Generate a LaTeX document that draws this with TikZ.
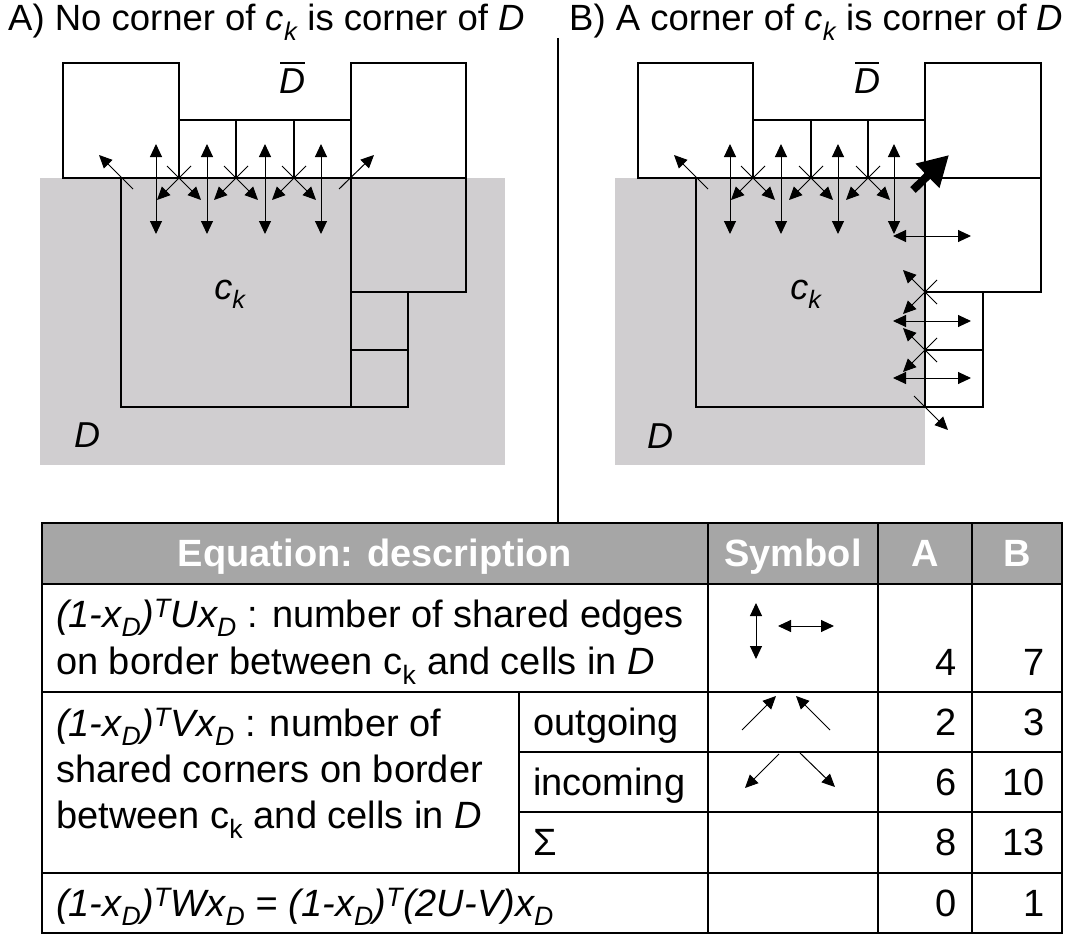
\documentclass[tikz,border=0pt]{standalone}
\usepackage{fontspec}
\setmainfont{Liberation Sans}
\usetikzlibrary{arrows.meta}
\definecolor{regiongray}{RGB}{208,206,208}
\definecolor{headgray}{RGB}{166,166,166}
\newcommand\hcross[1]{%
  \draw[arr] (#1) ++(-12,-12) -- ++(34,34);
  \draw[arr] (#1) ++(12,-12) -- ++(-34,34);}
\newcommand\vcross[1]{%
  \draw[arr] (#1) ++(12,-12) -- ++(-34,34);
  \draw[arr] (#1) ++(12,12) -- ++(-34,-34);}
\begin{document}
\begin{tikzpicture}[x=1pt,y=-1pt,
  cell/.style={draw=black,line width=2pt},
  tline/.style={draw=black,line width=2pt},
  arr/.style={line width=1pt,-{Triangle[length=13pt,width=12pt]}},
  dbl/.style={line width=1pt,{Triangle[length=13pt,width=12pt]}-{Triangle[length=13pt,width=12pt]}},
  bigarr/.style={line width=8pt,-{Triangle[length=30pt,width=32pt]}},
  lbl/.style={font=\fontsize{36}{42}\selectfont\itshape,inner sep=0pt,anchor=base},
  ttl/.style={font=\fontsize{36.5}{42}\selectfont,inner sep=0pt,anchor=base west},
  txt/.style={font=\fontsize{38}{44}\selectfont,inner sep=0pt,anchor=base west},
  num/.style={font=\fontsize{38}{44}\selectfont,inner sep=0pt,anchor=base east},
  hdr/.style={font=\fontsize{38}{44}\selectfont\bfseries,text=white,inner sep=0pt,anchor=base}]
\useasboundingbox (0,0) rectangle (1069,934);

% titles and divider
\node[ttl] (titleA) at (8,31) {A) No corner of \textit{c\textsubscript{k}} is corner of \textit{D}};
\node[ttl] (titleB) at (569,31) {B) A corner of \textit{c\textsubscript{k}} is corner of \textit{D}};
\coordinate (divtop) at (558,38);
\coordinate (divbot) at (558,523);
\draw[line width=1.5pt] (divtop) -- (divbot);

% ---------- panel A ----------
\fill[regiongray] (40,178) rectangle (505,465);
\draw[cell] (63,63) rectangle (179,178);
\draw[cell] (179,120) rectangle (236,178);
\draw[cell] (236,120) rectangle (294,178);
\draw[cell] (294,120) rectangle (351,178);
\draw[cell] (351,63) rectangle (466,178);
\draw[cell] (351,178) rectangle (466,292);
\draw[cell] (121,178) rectangle (351,407);
\draw[cell] (351,292) rectangle (408,350);
\draw[cell] (351,350) rectangle (408,407);
\coordinate (cA0) at (121,178);
\coordinate (cA1) at (179,178);
\coordinate (cA2) at (236,178);
\coordinate (cA3) at (294,178);
\coordinate (cA4) at (351,178);
\foreach \x in {156,207,265,321} \draw[dbl] (\x,144) -- (\x,234);
\hcross{cA1}\hcross{cA2}\hcross{cA3}
\draw[arr] (cA0) ++(12,11) -- ++(-34,-34);
\draw[arr] (cA4) ++(-12,11) -- ++(35,-34);
\node[lbl] (dbarA) at (292,93) {D};
\draw[line width=1.8pt] (280,63) -- (305,63);
\node[lbl] (ckA) at (230,299) {c\textsubscript{k}};
\node[lbl] (DA) at (87,447) {D};

% ---------- panel B ----------
\fill[regiongray] (615,178) rectangle (925,465);
\draw[cell] (638,63) rectangle (753,178);
\draw[cell] (753,120) rectangle (811,178);
\draw[cell] (811,120) rectangle (868,178);
\draw[cell] (868,120) rectangle (925,178);
\draw[cell] (925,63) rectangle (1041,178);
\draw[cell] (925,178) rectangle (1041,292);
\draw[cell] (696,178) rectangle (925,407);
\draw[cell] (925,292) rectangle (983,350);
\draw[cell] (925,350) rectangle (983,407);
\coordinate (cB0) at (696,178);
\coordinate (cB1) at (753,178);
\coordinate (cB2) at (811,178);
\coordinate (cB3) at (868,178);
\coordinate (cB4) at (925,178);
\coordinate (cB5) at (925,292);
\coordinate (cB6) at (925,350);
\coordinate (cB7) at (925,407);
\foreach \x in {730,781,838,894} \draw[dbl] (\x,144) -- (\x,234);
\foreach \y in {236,321,378} \draw[dbl] (893,\y) -- (971,\y);
\hcross{cB1}\hcross{cB2}\hcross{cB3}
\vcross{cB5}\vcross{cB6}
\draw[arr] (cB0) ++(12,11) -- ++(-34,-34);
\draw[arr] (cB7) ++(-11,-11) -- ++(34,34);
\draw[bigarr] (cB4) ++(-12,12) -- ++(36,-35);
\node[lbl] (dbarB) at (867,93) {D};
\draw[line width=1.8pt] (855,63) -- (879,63);
\node[lbl] (ckB) at (806,299) {c\textsubscript{k}};
\node[lbl] (DB) at (660,448) {D};

% ---------- table ----------
\fill[headgray] (42,523) rectangle (1062,584);
\draw[tline] (42,523) rectangle (1062,933);
\draw[tline] (42,584) -- (1062,584);
\draw[tline] (42,692) -- (1062,692);
\draw[tline] (519,752) -- (1062,752);
\draw[tline] (519,812) -- (1062,812);
\draw[tline] (42,873) -- (1062,873);
\draw[tline] (708,523) -- (708,933);
\draw[tline] (878,523) -- (878,933);
\draw[tline] (972,523) -- (972,933);
\draw[tline] (519,692) -- (519,873);

\node[hdr] (h1) at (375,566) {Equation: description};
\node[hdr] (h2) at (793,566) {Symbol};
\node[hdr] (h3) at (925,566) {A};
\node[hdr] (h4) at (1017,566) {B};

\node[txt] (r1a) at (56,627) {\textit{(1-x\textsubscript{D})\textsuperscript{T}Ux\textsubscript{D}} : number of shared edges};
\node[txt] (r1b) at (56,674) {on border between c\textsubscript{k} and cells in \textit{D}};
\node[num] (r1A) at (957,675) {4};
\node[num] (r1B) at (1045,675) {7};

\node[txt] (r2a) at (56,736) {\textit{(1-x\textsubscript{D})\textsuperscript{T}Vx\textsubscript{D}} : number of};
\node[txt] (r2b) at (56,782) {shared corners on border};
\node[txt] (r2c) at (56,828) {between c\textsubscript{k} and cells in \textit{D}};
\node[txt] (out) at (533,735) {outgoing};
\node[txt] (inc) at (533,795) {incoming};
\node[txt] (sig) at (533,855) {Σ};
\node[num] (oA) at (957,735) {2};
\node[num] (oB) at (1045,735) {3};
\node[num] (iA) at (957,795) {6};
\node[num] (iB) at (1045,795) {10};
\node[num] (sA) at (957,855) {8};
\node[num] (sB) at (1045,855) {13};

\node[txt] (r3) at (56,916) {\textit{(1-x\textsubscript{D})\textsuperscript{T}Wx\textsubscript{D} = (1-x\textsubscript{D})\textsuperscript{T}(2U-V)x\textsubscript{D}}};
\node[num] (wA) at (957,916) {0};
\node[num] (wB) at (1045,916) {1};

% symbols
\draw[dbl] (756,603) -- (756,659);
\draw[dbl] (778,626) -- (834,626);
\draw[arr] (742,730) -- (776,696);
\draw[arr] (830,730) -- (796,696);
\draw[arr] (779,754) -- (745,788);
\draw[arr] (800,753) -- (835,787);
\end{tikzpicture}
\end{document}
